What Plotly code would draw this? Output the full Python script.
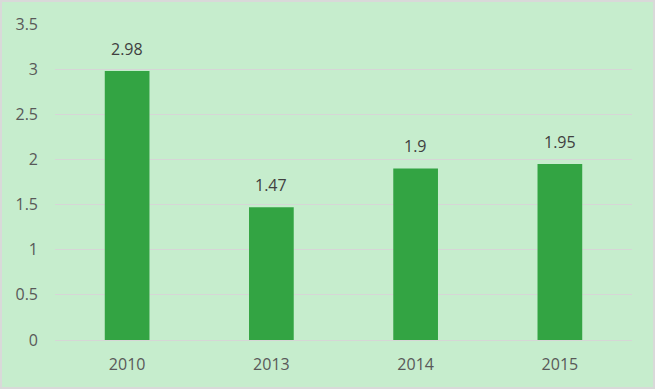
import plotly.graph_objects as go

categories = ["2010", "2013", "2014", "2015"]
values = [2.98, 1.47, 1.9, 1.95]
value_labels = ["2.98", "1.47", "1.9", "1.95"]
y_ticks = [0, 0.5, 1, 1.5, 2, 2.5, 3, 3.5]
y_tick_labels = ["0", "0.5", "1", "1.5", "2", "2.5", "3", "3.5"]

W, H = 655, 389
L, R, T, B = 55, 23, 24, 49
pw, ph = W - L - R, H - T - B
FONT = "Open Sans, Liberation Sans, sans-serif"

fig = go.Figure(go.Bar(
    x=categories, y=values,
    marker=dict(color="#33A443", line=dict(width=0)),
    width=0.31,
    hoverinfo="skip",
))

# category axis: annotations use the category index
for i, (v, t) in enumerate(zip(values, value_labels)):
    fig.add_annotation(x=i, y=v, text=t, showarrow=False,
                       yanchor="bottom", yshift=9,
                       font=dict(family=FONT, size=16, color="#404040"))

fig.update_layout(
    width=W, height=H,
    margin=dict(l=L, r=R, t=T, b=B),
    paper_bgcolor="#C6EDCD",
    plot_bgcolor="#C6EDCD",
    showlegend=False,
    font=dict(family=FONT, size=16, color="#595959"),
    xaxis=dict(type="category", categoryarray=categories, categoryorder="array",
               range=[-0.5, len(categories) - 0.5],
               showgrid=False, showline=False, ticks="",
               ticklabelstandoff=13,
               tickfont=dict(family=FONT, size=16, color="#595959")),
    yaxis=dict(range=[0, 3.5], tickvals=y_ticks, ticktext=y_tick_labels,
               showgrid=True, gridcolor="#D6D6D6", gridwidth=1,
               zeroline=True, zerolinecolor="#D6D6D6", zerolinewidth=1,
               showline=False, ticks="", ticklabelstandoff=16,
               tickfont=dict(family=FONT, size=16, color="#595959")),
    shapes=[dict(type="rect", xref="paper", yref="paper",
                 x0=-(L - 1) / pw, x1=1 + (R - 1) / pw,
                 y0=-(B - 1) / ph, y1=1 + (T - 1) / ph,
                 line=dict(color="#D9D9D9", width=2), layer="above")],
)

fig.write_html("out.html", config={"displayModeBar": False},
               post_script="document.body.style.margin='0';document.body.style.overflow='hidden';")
